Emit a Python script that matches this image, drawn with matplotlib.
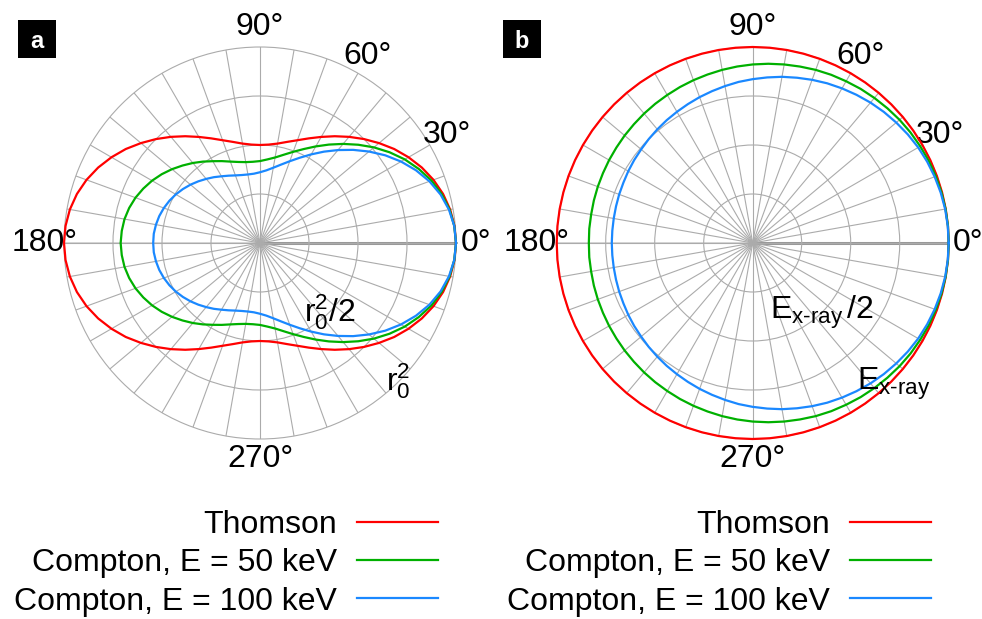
import numpy as np
import matplotlib
matplotlib.use("Agg")
import matplotlib.pyplot as plt
import matplotlib.transforms as mtransforms
from matplotlib.patches import Rectangle

plt.rcParams['font.family'] = ['Liberation Sans', 'DejaVu Sans']
plt.rcParams['mathtext.fontset'] = 'custom'
plt.rcParams['mathtext.rm'] = 'Liberation Sans'
plt.rcParams['mathtext.it'] = 'Liberation Sans'

# scattering angle (deg), upper half; lower half is the mirror image
theta_deg = [0, 5, 10, 15, 20, 25, 30, 35, 40, 45, 50, 55, 60, 65, 70, 75, 80, 85, 90,
             95, 100, 105, 110, 115, 120, 125, 130, 135, 140, 145, 150, 155, 160, 165, 170, 175, 180]

# panel a: differential cross-section, in units of r0^2
thomson_dcs = [1.000, 0.996, 0.985, 0.967, 0.942, 0.911, 0.875, 0.836, 0.793, 0.750,
               0.707, 0.665, 0.625, 0.589, 0.558, 0.534, 0.515, 0.504, 0.500,
               0.504, 0.515, 0.534, 0.558, 0.589, 0.625, 0.665, 0.707, 0.750,
               0.793, 0.836, 0.875, 0.911, 0.942, 0.967, 0.985, 0.996, 1.000]
compton50_dcs = [1.000, 0.995, 0.982, 0.960, 0.931, 0.894, 0.853, 0.807, 0.759, 0.709,
                 0.660, 0.613, 0.569, 0.529, 0.495, 0.466, 0.443, 0.428, 0.418,
                 0.416, 0.419, 0.428, 0.442, 0.461, 0.482, 0.507, 0.533, 0.559,
                 0.586, 0.612, 0.636, 0.657, 0.676, 0.691, 0.702, 0.708, 0.711]
compton100_dcs = [1.000, 0.995, 0.979, 0.954, 0.920, 0.878, 0.831, 0.780, 0.726, 0.672,
                  0.619, 0.569, 0.522, 0.480, 0.444, 0.414, 0.390, 0.372, 0.361,
                  0.355, 0.355, 0.359, 0.367, 0.379, 0.393, 0.410, 0.427, 0.445,
                  0.463, 0.480, 0.496, 0.510, 0.522, 0.532, 0.539, 0.544, 0.545]

# panel b: scattered photon energy, in units of E_x-ray
thomson_E = [1.000, 1.000, 1.000, 1.000, 1.000, 1.000, 1.000, 1.000, 1.000, 1.000,
             1.000, 1.000, 1.000, 1.000, 1.000, 1.000, 1.000, 1.000, 1.000,
             1.000, 1.000, 1.000, 1.000, 1.000, 1.000, 1.000, 1.000, 1.000,
             1.000, 1.000, 1.000, 1.000, 1.000, 1.000, 1.000, 1.000, 1.000]
compton50_E = [1.000, 1.000, 0.999, 0.997, 0.994, 0.991, 0.987, 0.983, 0.978, 0.972,
               0.966, 0.960, 0.953, 0.947, 0.940, 0.932, 0.925, 0.918, 0.911,
               0.904, 0.897, 0.890, 0.884, 0.878, 0.872, 0.867, 0.862, 0.857,
               0.853, 0.849, 0.846, 0.843, 0.841, 0.839, 0.837, 0.837, 0.836]
compton100_E = [1.000, 0.999, 0.997, 0.993, 0.988, 0.982, 0.975, 0.966, 0.956, 0.946,
                0.935, 0.923, 0.911, 0.899, 0.886, 0.873, 0.861, 0.848, 0.836,
                0.825, 0.813, 0.802, 0.792, 0.782, 0.773, 0.765, 0.757, 0.750,
                0.743, 0.738, 0.733, 0.728, 0.725, 0.722, 0.720, 0.719, 0.719]

labels = ["Thomson", "Compton, E = 50 keV", "Compton, E = 100 keV"]
colors = ["#ff0000", "#00b000", "#1a88ff"]
angle_labels = [0, 30, 60, 90, 180, 270]

GRID = "#ababab"
FS = 23


def full_circle(vals):
    # mirror the 0..180 half onto 180..360
    th = np.deg2rad(theta_deg)
    v = np.asarray(vals)
    th_all = np.concatenate([th, 2 * np.pi - th[::-1][1:]])
    v_all = np.concatenate([v, v[::-1][1:]])
    return th_all, v_all


def setup_polar(ax):
    ax.set_ylim(0, 1)
    ax.set_xticks(np.deg2rad(np.arange(0, 360, 10)))
    ax.set_xticklabels([])
    ax.set_yticks([0.25, 0.5, 0.75])
    ax.set_yticklabels([])
    ax.grid(True, color=GRID, lw=0.8)
    ax.spines['polar'].set_color(GRID)
    ax.spines['polar'].set_linewidth(0.8)
    ax.tick_params(length=0)
    ax.axvline(np.pi, color="#cfcfcf", lw=1.2, zorder=1.5)
    ax.axvline(0, color="#999999", lw=2.2, zorder=1.5)
    up = mtransforms.offset_copy(ax.transData, fig=fig, y=3.5, units="dots")
    for a in angle_labels:
        ax.text(np.deg2rad(a), 1.10, f"{a}°", ha="center", va="center_baseline",
                fontsize=FS, transform=up)


fig = plt.figure(figsize=(9.82, 6.19), dpi=100)
axa = fig.add_axes([64 / 982, 180 / 619, 392 / 982, 392 / 619], projection="polar")
axb = fig.add_axes([556.7 / 982, 180 / 619, 392 / 982, 392 / 619], projection="polar")

for ax, series in [(axa, [thomson_dcs, compton50_dcs, compton100_dcs]),
                   (axb, [thomson_E, compton50_E, compton100_E])]:
    setup_polar(ax)
    for vals, c, lab in zip(series, colors, labels):
        th, r = full_circle(vals)
        ax.plot(th, r, color=c, lw=1.6, label=lab, zorder=3, clip_on=False)

# radial scale labels along -45 deg
axa.text(np.deg2rad(-45), 0.5, r"$\mathregular{r_0^2/2}$", ha="center", va="center",
         fontsize=FS, zorder=4)
axa.text(np.deg2rad(-45), 1.0, r"$\mathregular{r_0^2}$", ha="center", va="center",
         fontsize=FS, zorder=4)
axb.text(np.deg2rad(-45), 0.5, r"$\mathregular{E_{x\text{-}ray}\,/2}$", ha="center",
         va="center", fontsize=FS, zorder=4)
axb.text(np.deg2rad(-45), 1.02, r"$\mathregular{E_{x\text{-}ray}}$", ha="center",
         va="center", fontsize=FS, zorder=4)

# legends below each panel
for ax, xr in [(axa, 438 / 982), (axb, 931 / 982)]:
    ax.legend(loc="upper right", bbox_to_anchor=(xr, 1 - 510 / 619), bbox_transform=fig.transFigure,
              frameon=False, markerfirst=False, fontsize=FS, handlelength=2.54,
              handletextpad=0.63, labelspacing=0.26, borderpad=0, borderaxespad=0)

# panel letters
for x, letter in [(18, "a"), (503, "b")]:
    fig.add_artist(Rectangle((x / 982, 1 - 58 / 619), 38 / 982, 38 / 619,
                             transform=fig.transFigure, fc="black", ec="none"))
    fig.text((x + 19) / 982, 1 - 39 / 619, letter, ha="center", va="center_baseline",
             color="white", fontsize=17, fontweight="bold")

fig.savefig("out.png", dpi=100)
